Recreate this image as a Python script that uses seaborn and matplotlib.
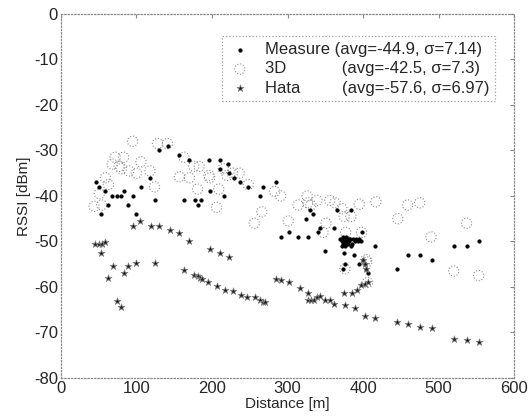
import matplotlib
matplotlib.use("Agg")
import matplotlib.pyplot as plt
import seaborn as sns

# Measured RSSI samples
measure_d = [46, 51, 53, 59, 62, 68, 74, 79, 83, 89, 95, 100, 106, 118, 124, 130, 142,
             157, 163, 170, 178, 182, 186, 196, 197, 210, 211, 216, 221, 223, 229, 237,
             248, 263, 268, 285, 291, 302, 314, 324, 327, 330, 334, 341, 343, 349, 361,
             366, 370, 372, 373, 374, 375, 376, 377, 378, 379, 380, 381, 382, 383, 385,
             387, 389, 391, 393, 395, 397, 372, 376, 380, 384, 375, 376, 373, 384, 388,
             394, 398, 406, 400, 402, 404, 416, 445, 459, 475, 491, 521, 537, 553]
measure_rssi = [-37, -38, -44, -39, -42, -40, -40, -40, -39, -42, -40, -44, -38, -36, -41,
                -30, -29, -31, -41, -32, -41, -42, -41, -32, -39, -32, -34, -40, -33, -35,
                -36, -37, -38, -40, -38, -37, -49, -48, -49, -45, -49, -43, -44, -48, -47,
                -52, -47, -43, -49.5, -50, -49, -50.5, -49.5, -50, -49, -50.5, -49.5, -50,
                -49.5, -50, -49.5, -50.5, -49.5, -50, -49.5, -50, -49.5, -50, -51, -51,
                -50.5, -51, -52.5, -55, -56, -43, -53, -55, -48, -57, -54, -55, -56, -51,
                -56, -53, -53, -54, -51, -51, -50]

# 3D model prediction
model3d_d = [44, 51, 54, 59, 63, 68, 72, 77, 83, 80, 90, 95, 100, 106, 118, 124, 128, 141,
             157, 163, 170, 176, 183, 181, 196, 197, 206, 209, 215, 220, 227, 236, 248,
             256, 266, 283, 291, 301, 314, 326, 327, 331, 339, 347, 351, 356, 363, 372,
             375, 377, 376, 384, 395, 398, 404, 406, 405, 417, 446, 459, 475, 490, 520,
             537, 553]
model3d_rssi = [-42.3, -39.5, -42, -36, -37.5, -33, -31.5, -33.5, -31.5, -34, -34.5, -28,
                -35, -32.5, -34.5, -38, -28.5, -28.5, -35.8, -31.5, -36, -33.5, -33.5, -38.5,
                -35.5, -36, -42.5, -38.5, -34, -35.5, -35, -35, -37.5, -46, -43.5, -39, -40,
                -45.5, -42, -40, -41.5, -42, -41, -48, -46, -41, -41.5, -42.8, -44.5, -48,
                -56, -44.5, -41.8, -48, -54, -59, -54.5, -41.3, -45, -42, -41.5, -49, -56.5,
                -46, -57.5]

# Hata model prediction
hata_d = [45, 50, 54, 59, 53, 62, 69, 74, 79, 83, 89, 100, 124, 95, 105, 119, 130, 145,
          157, 170, 197, 210, 222, 163, 176, 181, 184, 187, 195, 207, 217, 228, 238, 247,
          257, 263, 267, 270, 285, 292, 302, 316, 327, 327, 331, 335, 339, 343, 350, 356,
          362, 375, 386, 392, 397, 402, 406, 376, 389, 402, 416, 445, 459, 475, 491, 521,
          537, 553, 400, 402, 404]
hata_rssi = [-50.5, -50.5, -50.5, -50.2, -52.5, -58, -55.5, -63, -64.3, -57, -55.5, -54.8,
             -54.8, -46.5, -45.5, -46.6, -46.6, -47.5, -48.2, -50, -51.6, -52.5, -53.4,
             -56.3, -57.4, -57.7, -58.1, -58.3, -58.8, -59.8, -60.6, -60.9, -61.7, -62.2,
             -62.3, -62.9, -63.2, -63.2, -58.3, -58.5, -58.9, -60.3, -61.3, -62.9, -62.9,
             -62.8, -62.2, -62, -62.8, -62.9, -63.7, -61.4, -61.3, -60.6, -59.6, -59.4,
             -58.8, -64, -64.6, -66.3, -66.8, -67.6, -68.1, -68.7, -69, -71.5, -71.7, -72.2,
             -54, -55, -56]

labels = ["Measure (avg=-44.9, \u03c3=7.14)",
          "3D            (avg=-42.5, \u03c3=7.3)",
          "Hata         (avg=-57.6, \u03c3=6.97)"]

sns.set_style("white")
plt.rcParams["font.family"] = ["Liberation Sans", "DejaVu Sans"]
plt.rcParams["axes.unicode_minus"] = False

fig = plt.figure(figsize=(5.29, 4.2), dpi=100)
ax = fig.add_axes([0.115, 0.10, 0.857, 0.867])

sns.scatterplot(x=measure_d, y=measure_rssi, ax=ax, marker="o", s=7, color="black",
                edgecolor="black", linewidth=0.3, label=labels[0], zorder=3)
sns.scatterplot(x=model3d_d, y=model3d_rssi, ax=ax, marker="o", s=55, facecolor="none",
                edgecolor="#8a8a8a", linewidth=0.8, linestyle=":", label=labels[1], zorder=2)
sns.scatterplot(x=hata_d, y=hata_rssi, ax=ax, marker="*", s=28, color="#1a1a1a",
                edgecolor="#888888", linewidth=0.5, label=labels[2], zorder=3)

ax.set_xlim(0, 600)
ax.set_ylim(-80, 0)
ax.set_xticks(range(0, 601, 100))
ax.set_yticks(range(-80, 1, 10))
ax.tick_params(direction="in", length=3, labelsize=12, top=True, right=True,
               color="#888888", pad=2)
ax.set_xlabel("Distance [m]", fontsize=11, labelpad=1)
ax.set_ylabel("RSSI [dBm]", fontsize=11, labelpad=2)
for sp in ax.spines.values():
    sp.set_color("#888888")
    sp.set_linestyle(":")
    sp.set_linewidth(0.9)

leg = ax.legend(loc="upper right", bbox_to_anchor=(0.958, 0.938), fontsize=12,
                frameon=True, fancybox=False, handletextpad=0.8, borderpad=0.35,
                labelspacing=0.25, handlelength=1.4, borderaxespad=0)
leg.get_frame().set_edgecolor("#888888")
leg.get_frame().set_linestyle(":")
leg.get_frame().set_linewidth(0.9)

fig.savefig("out.png", dpi=100)
